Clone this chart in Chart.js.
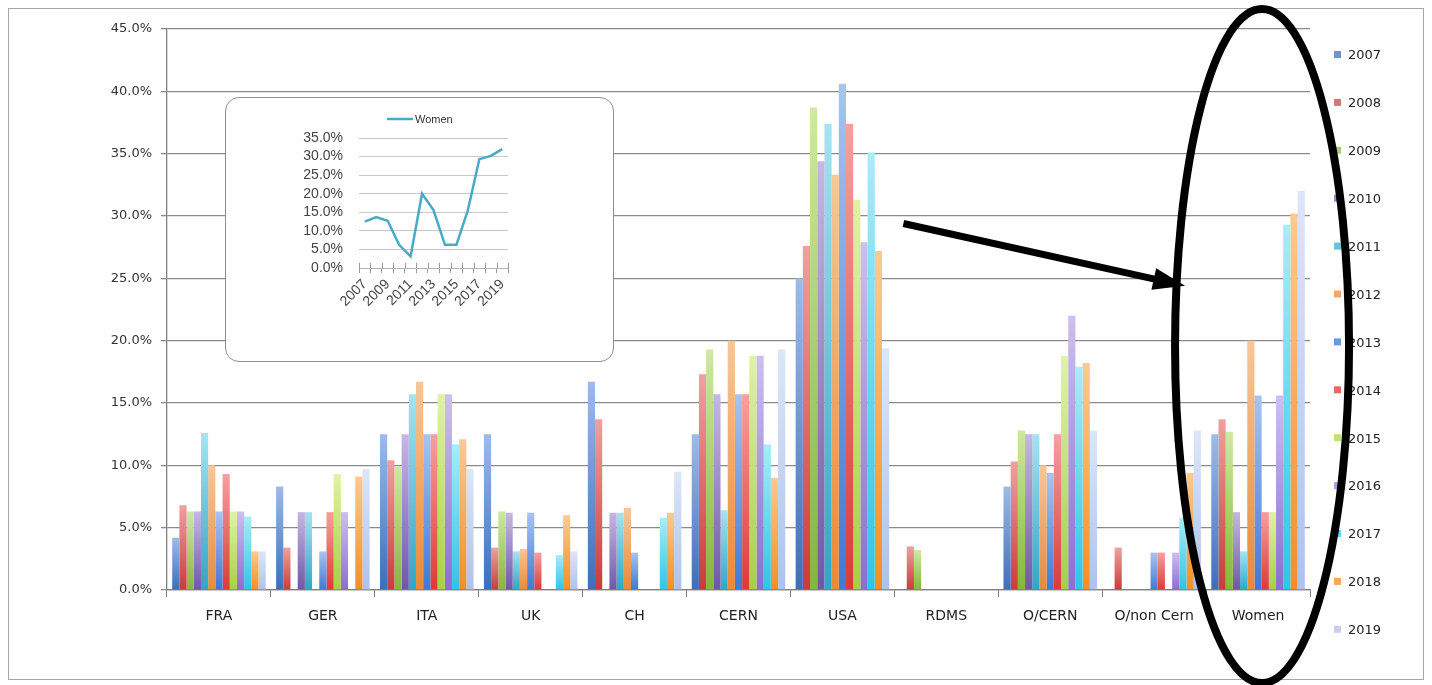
<!DOCTYPE html>
<html>
<head>
<meta charset="utf-8">
<title>Share by country, 2007–2019</title>
<script src="https://cdn.jsdelivr.net/npm/chart.js@4/dist/chart.umd.min.js"></script>
<style>
  html, body { margin: 0; padding: 0; background: #ffffff; }
  #wrap { position: relative; width: 1432px; height: 685px; overflow: hidden; }
  #main { position: absolute; left: 0; top: 0; }
  #insetBox {
    position: absolute; left: 225px; top: 97px; width: 387px; height: 263px;
    background: #ffffff; border: 1px solid #8f8f8f; border-radius: 14px; overflow: hidden;
  }
  #inset { position: absolute; left: 0; top: 0; }
</style>
</head>
<body>
<div id="wrap">
  <canvas id="main" width="1432" height="685"></canvas>
  <div id="insetBox"><canvas id="inset" width="387" height="263"></canvas></div>
</div>
<script>
// Categories along the x axis and the years (one bar series per year)
const categories = ['FRA', 'GER', 'ITA', 'UK', 'CH', 'CERN', 'USA', 'RDMS', 'O/CERN', 'O/non Cern', 'Women'];
const years = ['2007', '2008', '2009', '2010', '2011', '2012', '2013', '2014', '2015', '2016', '2017', '2018', '2019'];

// Percentages per category, one value per year 2007..2019
const FRA   = [4.2, 6.8, 6.3, 6.3, 12.6, 10.0, 6.3, 9.3, 6.3, 6.3, 5.9, 3.1, 3.1];
const GER   = [8.3, 3.4, 0, 6.25, 6.25, 0, 3.1, 6.25, 9.3, 6.25, 0, 9.1, 9.7];
const ITA   = [12.5, 10.4, 9.9, 12.5, 15.7, 16.7, 12.5, 12.5, 15.7, 15.7, 11.7, 12.1, 9.7];
const UK    = [12.5, 3.4, 6.3, 6.2, 3.1, 3.3, 6.2, 3.0, 0, 0, 2.8, 6.0, 3.1];
const CH    = [16.7, 13.7, 0, 6.2, 6.2, 6.6, 3.0, 0, 0, 0, 5.8, 6.2, 9.5];
const CERN  = [12.5, 17.3, 19.3, 15.7, 6.4, 20.0, 15.7, 15.7, 18.8, 18.8, 11.7, 9.0, 19.3];
const USA   = [25.0, 27.6, 38.7, 34.4, 37.4, 33.3, 40.6, 37.4, 31.3, 27.9, 35.1, 27.2, 19.4];
const RDMS  = [0, 3.5, 3.2, 0, 0, 0, 0, 0, 0, 0, 0, 0, 0];
const O_CERN    = [8.3, 10.3, 12.8, 12.5, 12.5, 10.0, 9.4, 12.5, 18.8, 22.0, 17.9, 18.2, 12.8];
const O_NONCERN = [0, 3.4, 0, 0, 0, 0, 3.0, 3.0, 0, 3.0, 5.8, 9.4, 12.8];
const WOMEN = [12.5, 13.7, 12.7, 6.25, 3.1, 20.0, 15.6, 6.25, 6.25, 15.6, 29.3, 30.2, 32.0];

// Tick values for both value axes
const mainTicks = [0, 5, 10, 15, 20, 25, 30, 35, 40, 45];
const insetTicks = [0, 5, 10, 15, 20, 25, 30, 35];

const byCategory = [FRA, GER, ITA, UK, CH, CERN, USA, RDMS, O_CERN, O_NONCERN, WOMEN];

// Series colours: light top, saturated bottom, legend swatch
const palette = [
  { top: '#9dbbe8', bottom: '#3d6eb8', swatch: '#6f93c9' },
  { top: '#f0a0a0', bottom: '#c93b3b', swatch: '#d27878' },
  { top: '#cfe8a2', bottom: '#86b53c', swatch: '#a9cd72' },
  { top: '#c4b8e4', bottom: '#6f57a8', swatch: '#9a8cc6' },
  { top: '#a8e2f0', bottom: '#2fa6c6', swatch: '#6cc3d8' },
  { top: '#f8c698', bottom: '#e68a3a', swatch: '#f0a870' },
  { top: '#a7c4f2', bottom: '#3f78d6', swatch: '#6a96dc' },
  { top: '#f6a0a0', bottom: '#dc3a3a', swatch: '#e86868' },
  { top: '#e0f2a8', bottom: '#a6d044', swatch: '#c0e070' },
  { top: '#cdbff0', bottom: '#8a6fd0', swatch: '#ad9be0' },
  { top: '#a8ecf8', bottom: '#30c4e4', swatch: '#66d4ec' },
  { top: '#fcca90', bottom: '#f48e24', swatch: '#f8aa55' },
  { top: '#dce6f8', bottom: '#aec2ea', swatch: '#c4d2f0' }
];

function barFill(ctx) {
  const col = palette[ctx.datasetIndex];
  const chart = ctx.chart;
  const ys = chart.scales && chart.scales.y;
  if (ctx.type !== 'data' || !ys) return col.swatch;
  const top = ys.getPixelForValue(ctx.raw);
  const bot = ys.getPixelForValue(0);
  if (!isFinite(top) || !isFinite(bot) || Math.abs(bot - top) < 1) return col.swatch;
  const g = chart.ctx.createLinearGradient(0, top, 0, bot);
  g.addColorStop(0, col.top);
  g.addColorStop(1, col.bottom);
  return g;
}

const datasets = years.map((yr, i) => ({
  label: yr,
  data: byCategory.map(arr => arr[i]),
  backgroundColor: barFill,
  borderWidth: 0,
  categoryPercentage: 0.9,
  barPercentage: 1.0
}));

const axisFont = { family: 'DejaVu Sans', size: 14 };
const valueFont = { family: 'DejaVu Sans', size: 13 };

// Frame, year legend, highlight ellipse and arrow
const decorations = {
  id: 'decorations',
  beforeDraw(chart) {
    const c = chart.ctx;
    c.save();
    c.fillStyle = '#ffffff';
    c.fillRect(0, 0, chart.width, chart.height);
    c.strokeStyle = '#a6a6a6';
    c.lineWidth = 1;
    c.strokeRect(8.5, 8.5, chart.width - 17, chart.height - 14);
    c.restore();
  },
  afterDraw(chart) {
    const c = chart.ctx;
    const xs = chart.scales.x, ys = chart.scales.y;
    c.save();
    // legend
    c.font = '13px "DejaVu Sans"';
    c.textBaseline = 'middle';
    c.textAlign = 'left';
    chart.data.datasets.forEach((ds, i) => {
      const y = 55 + i * 47.9;
      c.fillStyle = palette[i].swatch;
      c.fillRect(1334, y - 4, 7, 7);
      c.fillStyle = '#222222';
      c.fillText(ds.label, 1348, y + 1);
    });
    // ellipse around the last category
    const cx = xs.getPixelForValue(10) + 4;
    c.beginPath();
    c.ellipse(cx, 346, 87, 337, 0, 0, Math.PI * 2);
    c.lineWidth = 8;
    c.strokeStyle = '#000000';
    c.stroke();
    // arrow from the USA group towards the ellipse
    const sx = xs.getPixelForValue(6) + 61, sy = ys.getPixelForValue(29.4);
    const tx = xs.getPixelForValue(10) - 73, ty = ys.getPixelForValue(24.4);
    const ang = Math.atan2(ty - sy, tx - sx);
    const headLen = 32, headHalf = 11;
    const bx = tx - headLen * Math.cos(ang), by = ty - headLen * Math.sin(ang);
    c.beginPath();
    c.moveTo(sx, sy);
    c.lineTo(bx + 2 * Math.cos(ang), by + 2 * Math.sin(ang));
    c.lineWidth = 7;
    c.lineCap = 'butt';
    c.stroke();
    c.beginPath();
    c.moveTo(tx, ty);
    c.lineTo(bx + headHalf * Math.sin(ang), by - headHalf * Math.cos(ang));
    c.lineTo(bx - headHalf * Math.sin(ang), by + headHalf * Math.cos(ang));
    c.closePath();
    c.fillStyle = '#000000';
    c.fill();
    c.restore();
  }
};

new Chart(document.getElementById('main'), {
  type: 'bar',
  data: { labels: categories, datasets },
  options: {
    responsive: false,
    animation: false,
    devicePixelRatio: 1,
    layout: { padding: { left: 0, right: 122, top: 29, bottom: 0 } },
    plugins: { legend: { display: false }, tooltip: { enabled: false } },
    scales: {
      x: {
        grid: { offset: true, drawOnChartArea: false, tickLength: 7, color: '#808080' },
        border: { color: '#808080', width: 1.3 },
        ticks: { font: axisFont, color: '#222222', padding: 11, autoSkip: false, maxRotation: 0 },
        afterFit(s) { s.height = 95; }
      },
      y: {
        min: mainTicks[0],
        max: mainTicks[mainTicks.length - 1],
        afterBuildTicks(s) { s.ticks = mainTicks.map(v => ({ value: v })); },
        ticks: { font: valueFont, color: '#333333', padding: 9, autoSkip: false, callback: v => v.toFixed(1) + '%' },
        grid: { color: '#8a8a8a', lineWidth: 1.3, tickLength: 6 },
        border: { color: '#808080', width: 1.3 },
        afterFit(s) { s.width = 167; }
      }
    }
  },
  plugins: [decorations]
});

// Inset: yearly share for the last category
const insetDecor = {
  id: 'insetDecor',
  afterDraw(chart) {
    const c = chart.ctx;
    const area = chart.chartArea;
    c.save();
    // tick marks that also rise a little above the category axis
    c.strokeStyle = '#9a9a9a';
    c.lineWidth = 1;
    const step = (area.right - area.left) / years.length;
    for (let i = 0; i <= years.length; i++) {
      const x = Math.round(area.left + i * step) + 0.5;
      c.beginPath();
      c.moveTo(x, area.bottom - 5);
      c.lineTo(x, area.bottom);
      c.stroke();
    }
    // legend entry
    c.strokeStyle = '#4aa9c6';
    c.lineWidth = 2.5;
    c.beginPath();
    c.moveTo(161, 21);
    c.lineTo(187, 21);
    c.stroke();
    c.font = '11px "Liberation Sans"';
    c.fillStyle = '#333333';
    c.textBaseline = 'middle';
    c.fillText(chart.data.datasets[0].label, 189, 21.5);
    c.restore();
  }
};

const insetFont = { family: 'Liberation Sans', size: 14 };

new Chart(document.getElementById('inset'), {
  type: 'line',
  data: {
    labels: years,
    datasets: [{
      label: 'Women',
      data: WOMEN,
      borderColor: '#4aa9c6',
      borderWidth: 2.5,
      pointRadius: 0,
      tension: 0,
      fill: false
    }]
  },
  options: {
    responsive: false,
    animation: false,
    devicePixelRatio: 1,
    layout: { padding: { left: 0, right: 105, top: 40, bottom: 0 } },
    plugins: { legend: { display: false }, tooltip: { enabled: false } },
    scales: {
      x: {
        offset: true,
        grid: { offset: true, drawOnChartArea: false, tickLength: 5, color: '#9a9a9a' },
        border: { color: '#b5b5b5' },
        ticks: {
          font: insetFont, color: '#444444', padding: 3, autoSkip: false,
          minRotation: 45, maxRotation: 45,
          callback(v, i) { return i % 2 === 0 ? years[i] : ''; }
        },
        afterFit(s) { s.height = 93; }
      },
      y: {
        min: insetTicks[0],
        max: insetTicks[insetTicks.length - 1],
        afterBuildTicks(s) { s.ticks = insetTicks.map(v => ({ value: v })); },
        ticks: { font: insetFont, color: '#444444', padding: 16, autoSkip: false, callback: v => v.toFixed(1) + '%' },
        grid: { color: '#c8c8c8', drawTicks: false },
        border: { display: false },
        afterFit(s) { s.width = 133; }
      }
    }
  },
  plugins: [insetDecor]
});
</script>
</body>
</html>
